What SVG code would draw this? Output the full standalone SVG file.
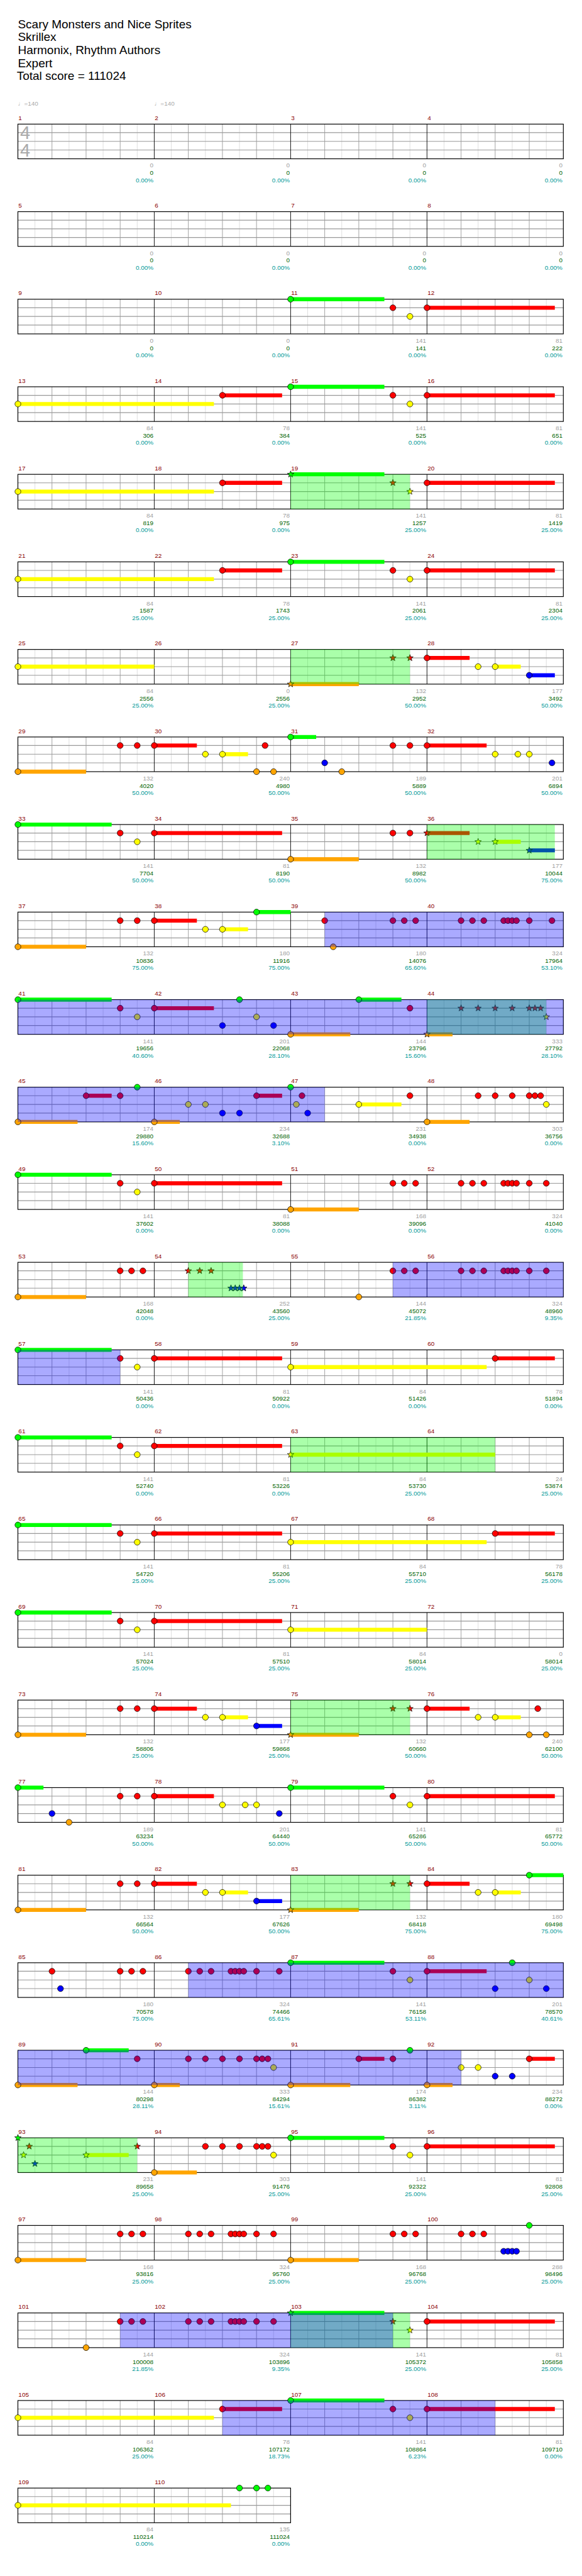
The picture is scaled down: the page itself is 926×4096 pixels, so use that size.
<svg xmlns="http://www.w3.org/2000/svg" xmlns:xlink="http://www.w3.org/1999/xlink" width="926" height="4096" viewBox="0 0 926 4096">
<style>
text{font-family:"Liberation Sans",Arial,sans-serif}
.t{font-size:21px;fill:#000}
.tp{font-size:11px;fill:#aaa}
.ts{font-size:32px;fill:#aaa}
.mn{font-size:11px;fill:#8b0000}
.sc,.cu,.pc{font-size:11px;text-anchor:end}
.sc{fill:#a0a0a0}.cu{fill:#006400}.pc{fill:#009999}
.n{stroke:#000;stroke-width:0.8}
.g{fill:#00ff00}.r{fill:#ff0000}.y{fill:#ffff00}.b{fill:#0000ff}.o{fill:#ffa500}
.su{fill:none;stroke-width:7}
.sg{stroke:#00ff00}.sr{stroke:#ff0000}.sy{stroke:#ffff00}.sb{stroke:#0000ff}.so{stroke:#ffa500}
.ovg{fill:#00ff00;fill-opacity:.333}
.ovb{fill:#0000ff;fill-opacity:.333}
</style>
<defs>
<g id="grid4">
<rect width="960" height="61" fill="#fff"/>
<path d="M30 0V61M90 0V61M150 0V61M210 0V61M270 0V61M330 0V61M390 0V61M450 0V61M510 0V61M570 0V61M630 0V61M690 0V61M750 0V61M810 0V61M870 0V61M930 0V61" stroke="#dcdcdc"/>
<path d="M60 0V61M120 0V61M180 0V61M300 0V61M360 0V61M420 0V61M540 0V61M600 0V61M660 0V61M780 0V61M840 0V61M900 0V61" stroke="#999"/>
<path d="M0 15H960M0 30.3H960M0 45.5H960" stroke="#999" stroke-width="1.3"/>
<path d="M240 0V61M480 0V61M720 0V61" stroke="#000"/>
<rect width="960" height="61" fill="none" stroke="#000" stroke-width="1.3"/>
</g>
<g id="grid2">
<rect width="480" height="61" fill="#fff"/>
<path d="M30 0V61M90 0V61M150 0V61M210 0V61M270 0V61M330 0V61M390 0V61M450 0V61" stroke="#dcdcdc"/>
<path d="M60 0V61M120 0V61M180 0V61M300 0V61M360 0V61M420 0V61" stroke="#999"/>
<path d="M0 15H480M0 30.3H480M0 45.5H480" stroke="#999" stroke-width="1.3"/>
<path d="M240 0V61" stroke="#000"/>
<rect width="480" height="61" fill="none" stroke="#000" stroke-width="1.3"/>
</g>
<path id="st" d="M0-6L1.47-2.02L5.71-1.85L2.38.77L3.53 4.85L0 2.5L-3.53 4.85L-2.38.77L-5.71-1.85L-1.47-2.02Z"/>
</defs>
<rect width="926" height="4096" fill="#fff"/>
<g transform="scale(0.904)">
<g id="header">
<text class="t" x="31.5" y="49.3">Scary Monsters and Nice Sprites</text>
<text class="t" x="31.5" y="72">Skrillex</text>
<text class="t" x="31.5" y="95">Harmonix, Rhythm Authors</text>
<text class="t" x="31.5" y="118">Expert</text>
<text class="t" x="29.5" y="141">Total score = 111024</text>
</g>

<g id="row1" transform="translate(31.5,218.3)">
<text class="tp" x="0" y="-33">♩=140</text><text class="tp" x="240" y="-33">♩=140</text>
<g class="mn"><text x="1" y="-7">1</text><text x="241" y="-7">2</text><text x="481" y="-7">3</text><text x="721" y="-7">4</text></g>
<use xlink:href="#grid4"/>
<text class="ts" x="4" y="26.7">4</text><text class="ts" x="4" y="56.7">4</text>
<g class="sc"><text x="238.5" y="76.5">0</text><text x="478.5" y="76.5">0</text><text x="718.5" y="76.5">0</text><text x="958.5" y="76.5">0</text></g>
<g class="cu"><text x="238.5" y="89.5">0</text><text x="478.5" y="89.5">0</text><text x="718.5" y="89.5">0</text><text x="958.5" y="89.5">0</text></g>
<g class="pc"><text x="238.5" y="102">0.00%</text><text x="478.5" y="102">0.00%</text><text x="718.5" y="102">0.00%</text><text x="958.5" y="102">0.00%</text></g>
</g>

<g id="row2" transform="translate(31.5,372.3)">
<g class="mn"><text x="1" y="-7">5</text><text x="241" y="-7">6</text><text x="481" y="-7">7</text><text x="721" y="-7">8</text></g>
<use xlink:href="#grid4"/>
<g class="sc"><text x="238.5" y="76.5">0</text><text x="478.5" y="76.5">0</text><text x="718.5" y="76.5">0</text><text x="958.5" y="76.5">0</text></g>
<g class="cu"><text x="238.5" y="89.5">0</text><text x="478.5" y="89.5">0</text><text x="718.5" y="89.5">0</text><text x="958.5" y="89.5">0</text></g>
<g class="pc"><text x="238.5" y="102">0.00%</text><text x="478.5" y="102">0.00%</text><text x="718.5" y="102">0.00%</text><text x="958.5" y="102">0.00%</text></g>
</g>

<g id="row3" transform="translate(31.5,526.3)">
<g class="mn"><text x="1" y="-7">9</text><text x="241" y="-7">10</text><text x="481" y="-7">11</text><text x="721" y="-7">12</text></g>
<use xlink:href="#grid4"/>
<path class="su sg" d="M480 0H645"/><path class="su sr" d="M720 15H945"/>
<g class="n"><circle class="g" cx="480" cy="0" r="5.2"/><circle class="r" cx="660" cy="15" r="5.2"/><circle class="y" cx="690" cy="30.3" r="5.2"/><circle class="r" cx="720" cy="15" r="5.2"/></g>
<g class="sc"><text x="238.5" y="76.5">0</text><text x="478.5" y="76.5">0</text><text x="718.5" y="76.5">141</text><text x="958.5" y="76.5">81</text></g>
<g class="cu"><text x="238.5" y="89.5">0</text><text x="478.5" y="89.5">0</text><text x="718.5" y="89.5">141</text><text x="958.5" y="89.5">222</text></g>
<g class="pc"><text x="238.5" y="102">0.00%</text><text x="478.5" y="102">0.00%</text><text x="718.5" y="102">0.00%</text><text x="958.5" y="102">0.00%</text></g>
</g>

<g id="row4" transform="translate(31.5,680.3)">
<g class="mn"><text x="1" y="-7">13</text><text x="241" y="-7">14</text><text x="481" y="-7">15</text><text x="721" y="-7">16</text></g>
<use xlink:href="#grid4"/>
<path class="su sy" d="M0 30.3H345"/><path class="su sr" d="M360 15H465M720 15H945"/><path class="su sg" d="M480 0H645"/>
<g class="n"><circle class="y" cx="0" cy="30.3" r="5.2"/><circle class="r" cx="360" cy="15" r="5.2"/><circle class="g" cx="480" cy="0" r="5.2"/><circle class="r" cx="660" cy="15" r="5.2"/><circle class="y" cx="690" cy="30.3" r="5.2"/><circle class="r" cx="720" cy="15" r="5.2"/></g>
<g class="sc"><text x="238.5" y="76.5">84</text><text x="478.5" y="76.5">78</text><text x="718.5" y="76.5">141</text><text x="958.5" y="76.5">81</text></g>
<g class="cu"><text x="238.5" y="89.5">306</text><text x="478.5" y="89.5">384</text><text x="718.5" y="89.5">525</text><text x="958.5" y="89.5">651</text></g>
<g class="pc"><text x="238.5" y="102">0.00%</text><text x="478.5" y="102">0.00%</text><text x="718.5" y="102">0.00%</text><text x="958.5" y="102">0.00%</text></g>
</g>

<g id="row5" transform="translate(31.5,834.3)">
<g class="mn"><text x="1" y="-7">17</text><text x="241" y="-7">18</text><text x="481" y="-7">19</text><text x="721" y="-7">20</text></g>
<use xlink:href="#grid4"/>
<path class="su sy" d="M0 30.3H345"/><path class="su sr" d="M360 15H465M720 15H945"/><path class="su sg" d="M480 0H645"/>
<g class="n"><circle class="y" cx="0" cy="30.3" r="5.2"/><circle class="r" cx="360" cy="15" r="5.2"/><use xlink:href="#st" class="g" x="480" y="0"/><use xlink:href="#st" class="r" x="660" y="15"/><use xlink:href="#st" class="y" x="690" y="30.3"/><circle class="r" cx="720" cy="15" r="5.2"/></g>
<rect class="ovg" x="480" width="210" height="61"/>
<g class="sc"><text x="238.5" y="76.5">84</text><text x="478.5" y="76.5">78</text><text x="718.5" y="76.5">141</text><text x="958.5" y="76.5">81</text></g>
<g class="cu"><text x="238.5" y="89.5">819</text><text x="478.5" y="89.5">975</text><text x="718.5" y="89.5">1257</text><text x="958.5" y="89.5">1419</text></g>
<g class="pc"><text x="238.5" y="102">0.00%</text><text x="478.5" y="102">0.00%</text><text x="718.5" y="102">25.00%</text><text x="958.5" y="102">25.00%</text></g>
</g>

<g id="row6" transform="translate(31.5,988.3)">
<g class="mn"><text x="1" y="-7">21</text><text x="241" y="-7">22</text><text x="481" y="-7">23</text><text x="721" y="-7">24</text></g>
<use xlink:href="#grid4"/>
<path class="su sy" d="M0 30.3H345"/><path class="su sr" d="M360 15H465M720 15H945"/><path class="su sg" d="M480 0H645"/>
<g class="n"><circle class="y" cx="0" cy="30.3" r="5.2"/><circle class="r" cx="360" cy="15" r="5.2"/><circle class="g" cx="480" cy="0" r="5.2"/><circle class="r" cx="660" cy="15" r="5.2"/><circle class="y" cx="690" cy="30.3" r="5.2"/><circle class="r" cx="720" cy="15" r="5.2"/></g>
<g class="sc"><text x="238.5" y="76.5">84</text><text x="478.5" y="76.5">78</text><text x="718.5" y="76.5">141</text><text x="958.5" y="76.5">81</text></g>
<g class="cu"><text x="238.5" y="89.5">1587</text><text x="478.5" y="89.5">1743</text><text x="718.5" y="89.5">2061</text><text x="958.5" y="89.5">2304</text></g>
<g class="pc"><text x="238.5" y="102">25.00%</text><text x="478.5" y="102">25.00%</text><text x="718.5" y="102">25.00%</text><text x="958.5" y="102">25.00%</text></g>
</g>

<g id="row7" transform="translate(31.5,1142.3)">
<g class="mn"><text x="1" y="-7">25</text><text x="241" y="-7">26</text><text x="481" y="-7">27</text><text x="721" y="-7">28</text></g>
<use xlink:href="#grid4"/>
<path class="su sy" d="M0 30.3H240M840 30.3H885"/><path class="su so" d="M480 61H600"/><path class="su sr" d="M720 15H795"/><path class="su sb" d="M900 45.5H945"/>
<g class="n"><circle class="y" cx="0" cy="30.3" r="5.2"/><use xlink:href="#st" class="o" x="480" y="61"/><use xlink:href="#st" class="r" x="660" y="15"/><use xlink:href="#st" class="r" x="690" y="15"/><circle class="r" cx="720" cy="15" r="5.2"/><circle class="y" cx="810" cy="30.3" r="5.2"/><circle class="y" cx="840" cy="30.3" r="5.2"/><circle class="b" cx="900" cy="45.5" r="5.2"/></g>
<rect class="ovg" x="480" width="210" height="61"/>
<g class="sc"><text x="238.5" y="76.5">84</text><text x="478.5" y="76.5">0</text><text x="718.5" y="76.5">132</text><text x="958.5" y="76.5">177</text></g>
<g class="cu"><text x="238.5" y="89.5">2556</text><text x="478.5" y="89.5">2556</text><text x="718.5" y="89.5">2952</text><text x="958.5" y="89.5">3492</text></g>
<g class="pc"><text x="238.5" y="102">25.00%</text><text x="478.5" y="102">25.00%</text><text x="718.5" y="102">50.00%</text><text x="958.5" y="102">50.00%</text></g>
</g>

<g id="row8" transform="translate(31.5,1296.3)">
<g class="mn"><text x="1" y="-7">29</text><text x="241" y="-7">30</text><text x="481" y="-7">31</text><text x="721" y="-7">32</text></g>
<use xlink:href="#grid4"/>
<path class="su so" d="M0 61H120"/><path class="su sr" d="M240 15H315M720 15H825"/><path class="su sy" d="M360 30.3H405"/><path class="su sg" d="M480 0H525"/>
<g class="n"><circle class="o" cx="0" cy="61" r="5.2"/><circle class="r" cx="180" cy="15" r="5.2"/><circle class="r" cx="210" cy="15" r="5.2"/><circle class="r" cx="240" cy="15" r="5.2"/><circle class="y" cx="330" cy="30.3" r="5.2"/><circle class="y" cx="360" cy="30.3" r="5.2"/><circle class="o" cx="420" cy="61" r="5.2"/><circle class="r" cx="435" cy="15" r="5.2"/><circle class="o" cx="450" cy="61" r="5.2"/><circle class="g" cx="480" cy="0" r="5.2"/><circle class="b" cx="540" cy="45.5" r="5.2"/><circle class="o" cx="570" cy="61" r="5.2"/><circle class="r" cx="660" cy="15" r="5.2"/><circle class="r" cx="690" cy="15" r="5.2"/><circle class="r" cx="720" cy="15" r="5.2"/><circle class="y" cx="840" cy="30.3" r="5.2"/><circle class="y" cx="880" cy="30.3" r="5.2"/><circle class="y" cx="900" cy="30.3" r="5.2"/><circle class="b" cx="940" cy="45.5" r="5.2"/></g>
<g class="sc"><text x="238.5" y="76.5">132</text><text x="478.5" y="76.5">240</text><text x="718.5" y="76.5">189</text><text x="958.5" y="76.5">201</text></g>
<g class="cu"><text x="238.5" y="89.5">4020</text><text x="478.5" y="89.5">4980</text><text x="718.5" y="89.5">5889</text><text x="958.5" y="89.5">6894</text></g>
<g class="pc"><text x="238.5" y="102">50.00%</text><text x="478.5" y="102">50.00%</text><text x="718.5" y="102">50.00%</text><text x="958.5" y="102">50.00%</text></g>
</g>

<g id="row9" transform="translate(31.5,1450.3)">
<g class="mn"><text x="1" y="-7">33</text><text x="241" y="-7">34</text><text x="481" y="-7">35</text><text x="721" y="-7">36</text></g>
<use xlink:href="#grid4"/>
<path class="su sg" d="M0 0H165"/><path class="su sr" d="M240 15H465M720 15H795"/><path class="su so" d="M480 61H600"/><path class="su sy" d="M840 30.3H885"/><path class="su sb" d="M900 45.5H945"/>
<g class="n"><circle class="g" cx="0" cy="0" r="5.2"/><circle class="r" cx="180" cy="15" r="5.2"/><circle class="y" cx="210" cy="30.3" r="5.2"/><circle class="r" cx="240" cy="15" r="5.2"/><circle class="o" cx="480" cy="61" r="5.2"/><circle class="r" cx="660" cy="15" r="5.2"/><circle class="r" cx="690" cy="15" r="5.2"/><use xlink:href="#st" class="r" x="720" y="15"/><use xlink:href="#st" class="y" x="810" y="30.3"/><use xlink:href="#st" class="y" x="840" y="30.3"/><use xlink:href="#st" class="b" x="900" y="45.5"/></g>
<rect class="ovg" x="720" width="225" height="61"/>
<g class="sc"><text x="238.5" y="76.5">141</text><text x="478.5" y="76.5">81</text><text x="718.5" y="76.5">132</text><text x="958.5" y="76.5">177</text></g>
<g class="cu"><text x="238.5" y="89.5">7704</text><text x="478.5" y="89.5">8190</text><text x="718.5" y="89.5">8982</text><text x="958.5" y="89.5">10044</text></g>
<g class="pc"><text x="238.5" y="102">50.00%</text><text x="478.5" y="102">50.00%</text><text x="718.5" y="102">50.00%</text><text x="958.5" y="102">75.00%</text></g>
</g>

<g id="row10" transform="translate(31.5,1604.3)">
<g class="mn"><text x="1" y="-7">37</text><text x="241" y="-7">38</text><text x="481" y="-7">39</text><text x="721" y="-7">40</text></g>
<use xlink:href="#grid4"/>
<path class="su so" d="M0 61H120"/><path class="su sr" d="M240 15H315"/><path class="su sy" d="M360 30.3H405"/><path class="su sg" d="M420 0H480"/>
<g class="n"><circle class="o" cx="0" cy="61" r="5.2"/><circle class="r" cx="180" cy="15" r="5.2"/><circle class="r" cx="210" cy="15" r="5.2"/><circle class="r" cx="240" cy="15" r="5.2"/><circle class="y" cx="330" cy="30.3" r="5.2"/><circle class="y" cx="360" cy="30.3" r="5.2"/><circle class="g" cx="420" cy="0" r="5.2"/><circle class="r" cx="540" cy="15" r="5.2"/><circle class="o" cx="555" cy="61" r="5.2"/><circle class="r" cx="660" cy="15" r="5.2"/><circle class="r" cx="680" cy="15" r="5.2"/><circle class="r" cx="700" cy="15" r="5.2"/><circle class="r" cx="780" cy="15" r="5.2"/><circle class="r" cx="800" cy="15" r="5.2"/><circle class="r" cx="820" cy="15" r="5.2"/><circle class="r" cx="855" cy="15" r="5.2"/><circle class="r" cx="862.5" cy="15" r="5.2"/><circle class="r" cx="870" cy="15" r="5.2"/><circle class="r" cx="877.5" cy="15" r="5.2"/><circle class="r" cx="900" cy="15" r="5.2"/><circle class="r" cx="940" cy="15" r="5.2"/></g>
<rect class="ovb" x="540" width="420" height="61"/>
<g class="sc"><text x="238.5" y="76.5">132</text><text x="478.5" y="76.5">180</text><text x="718.5" y="76.5">180</text><text x="958.5" y="76.5">324</text></g>
<g class="cu"><text x="238.5" y="89.5">10836</text><text x="478.5" y="89.5">11916</text><text x="718.5" y="89.5">14076</text><text x="958.5" y="89.5">17964</text></g>
<g class="pc"><text x="238.5" y="102">75.00%</text><text x="478.5" y="102">75.00%</text><text x="718.5" y="102">65.60%</text><text x="958.5" y="102">53.10%</text></g>
</g>

<g id="row11" transform="translate(31.5,1758.3)">
<g class="mn"><text x="1" y="-7">41</text><text x="241" y="-7">42</text><text x="481" y="-7">43</text><text x="721" y="-7">44</text></g>
<use xlink:href="#grid4"/>
<path class="su sg" d="M0 0H165M600 0H675"/><path class="su sr" d="M240 15H345"/><path class="su so" d="M480 61H585M720 61H765"/>
<g class="n"><circle class="g" cx="0" cy="0" r="5.2"/><circle class="r" cx="180" cy="15" r="5.2"/><circle class="y" cx="210" cy="30.3" r="5.2"/><circle class="r" cx="240" cy="15" r="5.2"/><circle class="b" cx="360" cy="45.5" r="5.2"/><circle class="g" cx="390" cy="0" r="5.2"/><circle class="y" cx="420" cy="30.3" r="5.2"/><circle class="b" cx="450" cy="45.5" r="5.2"/><circle class="o" cx="480" cy="61" r="5.2"/><circle class="g" cx="600" cy="0" r="5.2"/><circle class="r" cx="690" cy="15" r="5.2"/><use xlink:href="#st" class="o" x="720" y="61"/><use xlink:href="#st" class="r" x="780" y="15"/><use xlink:href="#st" class="r" x="810" y="15"/><use xlink:href="#st" class="r" x="840" y="15"/><use xlink:href="#st" class="r" x="870" y="15"/><use xlink:href="#st" class="r" x="900" y="15"/><use xlink:href="#st" class="r" x="910" y="15"/><use xlink:href="#st" class="r" x="920" y="15"/><use xlink:href="#st" class="y" x="930" y="30.3"/></g>
<rect class="ovg" x="720" width="210" height="61"/>
<rect class="ovb" x="0" width="960" height="61"/>
<g class="sc"><text x="238.5" y="76.5">141</text><text x="478.5" y="76.5">201</text><text x="718.5" y="76.5">144</text><text x="958.5" y="76.5">333</text></g>
<g class="cu"><text x="238.5" y="89.5">19656</text><text x="478.5" y="89.5">22068</text><text x="718.5" y="89.5">23796</text><text x="958.5" y="89.5">27792</text></g>
<g class="pc"><text x="238.5" y="102">40.60%</text><text x="478.5" y="102">28.10%</text><text x="718.5" y="102">15.60%</text><text x="958.5" y="102">28.10%</text></g>
</g>

<g id="row12" transform="translate(31.5,1912.3)">
<g class="mn"><text x="1" y="-7">45</text><text x="241" y="-7">46</text><text x="481" y="-7">47</text><text x="721" y="-7">48</text></g>
<use xlink:href="#grid4"/>
<path class="su so" d="M0 61H105M240 61H285M720 61H795"/><path class="su sr" d="M120 15H165M420 15H465"/><path class="su sy" d="M600 30.3H675"/>
<g class="n"><circle class="o" cx="0" cy="61" r="5.2"/><circle class="r" cx="120" cy="15" r="5.2"/><circle class="r" cx="180" cy="15" r="5.2"/><circle class="g" cx="210" cy="0" r="5.2"/><circle class="o" cx="240" cy="61" r="5.2"/><circle class="y" cx="300" cy="30.3" r="5.2"/><circle class="y" cx="330" cy="30.3" r="5.2"/><circle class="b" cx="360" cy="45.5" r="5.2"/><circle class="b" cx="390" cy="45.5" r="5.2"/><circle class="r" cx="420" cy="15" r="5.2"/><circle class="g" cx="480" cy="0" r="5.2"/><circle class="y" cx="490" cy="30.3" r="5.2"/><circle class="r" cx="500" cy="15" r="5.2"/><circle class="b" cx="510" cy="45.5" r="5.2"/><circle class="y" cx="600" cy="30.3" r="5.2"/><circle class="r" cx="690" cy="15" r="5.2"/><circle class="o" cx="720" cy="61" r="5.2"/><circle class="r" cx="810" cy="15" r="5.2"/><circle class="r" cx="840" cy="15" r="5.2"/><circle class="r" cx="870" cy="15" r="5.2"/><circle class="r" cx="900" cy="15" r="5.2"/><circle class="r" cx="910" cy="15" r="5.2"/><circle class="r" cx="920" cy="15" r="5.2"/><circle class="y" cx="930" cy="30.3" r="5.2"/></g>
<rect class="ovb" x="0" width="540" height="61"/>
<g class="sc"><text x="238.5" y="76.5">174</text><text x="478.5" y="76.5">234</text><text x="718.5" y="76.5">231</text><text x="958.5" y="76.5">303</text></g>
<g class="cu"><text x="238.5" y="89.5">29880</text><text x="478.5" y="89.5">32688</text><text x="718.5" y="89.5">34938</text><text x="958.5" y="89.5">36756</text></g>
<g class="pc"><text x="238.5" y="102">15.60%</text><text x="478.5" y="102">3.10%</text><text x="718.5" y="102">0.00%</text><text x="958.5" y="102">0.00%</text></g>
</g>

<g id="row13" transform="translate(31.5,2066.3)">
<g class="mn"><text x="1" y="-7">49</text><text x="241" y="-7">50</text><text x="481" y="-7">51</text><text x="721" y="-7">52</text></g>
<use xlink:href="#grid4"/>
<path class="su sg" d="M0 0H165"/><path class="su sr" d="M240 15H465"/><path class="su so" d="M480 61H600"/>
<g class="n"><circle class="g" cx="0" cy="0" r="5.2"/><circle class="r" cx="180" cy="15" r="5.2"/><circle class="y" cx="210" cy="30.3" r="5.2"/><circle class="r" cx="240" cy="15" r="5.2"/><circle class="o" cx="480" cy="61" r="5.2"/><circle class="r" cx="660" cy="15" r="5.2"/><circle class="r" cx="680" cy="15" r="5.2"/><circle class="r" cx="700" cy="15" r="5.2"/><circle class="r" cx="780" cy="15" r="5.2"/><circle class="r" cx="800" cy="15" r="5.2"/><circle class="r" cx="820" cy="15" r="5.2"/><circle class="r" cx="855" cy="15" r="5.2"/><circle class="r" cx="862.5" cy="15" r="5.2"/><circle class="r" cx="870" cy="15" r="5.2"/><circle class="r" cx="877.5" cy="15" r="5.2"/><circle class="r" cx="900" cy="15" r="5.2"/><circle class="r" cx="930" cy="15" r="5.2"/></g>
<g class="sc"><text x="238.5" y="76.5">141</text><text x="478.5" y="76.5">81</text><text x="718.5" y="76.5">168</text><text x="958.5" y="76.5">324</text></g>
<g class="cu"><text x="238.5" y="89.5">37602</text><text x="478.5" y="89.5">38088</text><text x="718.5" y="89.5">39096</text><text x="958.5" y="89.5">41040</text></g>
<g class="pc"><text x="238.5" y="102">0.00%</text><text x="478.5" y="102">0.00%</text><text x="718.5" y="102">0.00%</text><text x="958.5" y="102">0.00%</text></g>
</g>

<g id="row14" transform="translate(31.5,2220.3)">
<g class="mn"><text x="1" y="-7">53</text><text x="241" y="-7">54</text><text x="481" y="-7">55</text><text x="721" y="-7">56</text></g>
<use xlink:href="#grid4"/>
<path class="su so" d="M0 61H120"/>
<g class="n"><circle class="o" cx="0" cy="61" r="5.2"/><circle class="r" cx="180" cy="15" r="5.2"/><circle class="r" cx="200" cy="15" r="5.2"/><circle class="r" cx="220" cy="15" r="5.2"/><use xlink:href="#st" class="r" x="300" y="15"/><use xlink:href="#st" class="r" x="320" y="15"/><use xlink:href="#st" class="r" x="340" y="15"/><use xlink:href="#st" class="b" x="375" y="45.5"/><use xlink:href="#st" class="b" x="382.5" y="45.5"/><use xlink:href="#st" class="b" x="390" y="45.5"/><use xlink:href="#st" class="b" x="397.5" y="45.5"/><circle class="o" cx="600" cy="61" r="5.2"/><circle class="r" cx="660" cy="15" r="5.2"/><circle class="r" cx="680" cy="15" r="5.2"/><circle class="r" cx="700" cy="15" r="5.2"/><circle class="r" cx="780" cy="15" r="5.2"/><circle class="r" cx="800" cy="15" r="5.2"/><circle class="r" cx="820" cy="15" r="5.2"/><circle class="r" cx="855" cy="15" r="5.2"/><circle class="r" cx="862.5" cy="15" r="5.2"/><circle class="r" cx="870" cy="15" r="5.2"/><circle class="r" cx="877.5" cy="15" r="5.2"/><circle class="r" cx="900" cy="15" r="5.2"/><circle class="r" cx="930" cy="15" r="5.2"/></g>
<rect class="ovg" x="300" width="96" height="61"/>
<rect class="ovb" x="660" width="300" height="61"/>
<g class="sc"><text x="238.5" y="76.5">168</text><text x="478.5" y="76.5">252</text><text x="718.5" y="76.5">144</text><text x="958.5" y="76.5">324</text></g>
<g class="cu"><text x="238.5" y="89.5">42048</text><text x="478.5" y="89.5">43560</text><text x="718.5" y="89.5">45072</text><text x="958.5" y="89.5">48960</text></g>
<g class="pc"><text x="238.5" y="102">0.00%</text><text x="478.5" y="102">25.00%</text><text x="718.5" y="102">21.85%</text><text x="958.5" y="102">9.35%</text></g>
</g>

<g id="row15" transform="translate(31.5,2374.3)">
<g class="mn"><text x="1" y="-7">57</text><text x="241" y="-7">58</text><text x="481" y="-7">59</text><text x="721" y="-7">60</text></g>
<use xlink:href="#grid4"/>
<path class="su sg" d="M0 0H165"/><path class="su sr" d="M240 15H465M840 15H945"/><path class="su sy" d="M480 30.3H825"/>
<g class="n"><circle class="g" cx="0" cy="0" r="5.2"/><circle class="r" cx="180" cy="15" r="5.2"/><circle class="y" cx="210" cy="30.3" r="5.2"/><circle class="r" cx="240" cy="15" r="5.2"/><circle class="y" cx="480" cy="30.3" r="5.2"/><circle class="r" cx="840" cy="15" r="5.2"/></g>
<rect class="ovb" x="0" width="180" height="61"/>
<g class="sc"><text x="238.5" y="76.5">141</text><text x="478.5" y="76.5">81</text><text x="718.5" y="76.5">84</text><text x="958.5" y="76.5">78</text></g>
<g class="cu"><text x="238.5" y="89.5">50436</text><text x="478.5" y="89.5">50922</text><text x="718.5" y="89.5">51426</text><text x="958.5" y="89.5">51894</text></g>
<g class="pc"><text x="238.5" y="102">0.00%</text><text x="478.5" y="102">0.00%</text><text x="718.5" y="102">0.00%</text><text x="958.5" y="102">0.00%</text></g>
</g>

<g id="row16" transform="translate(31.5,2528.3)">
<g class="mn"><text x="1" y="-7">61</text><text x="241" y="-7">62</text><text x="481" y="-7">63</text><text x="721" y="-7">64</text></g>
<use xlink:href="#grid4"/>
<path class="su sg" d="M0 0H165"/><path class="su sr" d="M240 15H465"/><path class="su sy" d="M480 30.3H840"/>
<g class="n"><circle class="g" cx="0" cy="0" r="5.2"/><circle class="r" cx="180" cy="15" r="5.2"/><circle class="y" cx="210" cy="30.3" r="5.2"/><circle class="r" cx="240" cy="15" r="5.2"/><use xlink:href="#st" class="y" x="480" y="30.3"/></g>
<rect class="ovg" x="480" width="360" height="61"/>
<g class="sc"><text x="238.5" y="76.5">141</text><text x="478.5" y="76.5">81</text><text x="718.5" y="76.5">84</text><text x="958.5" y="76.5">24</text></g>
<g class="cu"><text x="238.5" y="89.5">52740</text><text x="478.5" y="89.5">53226</text><text x="718.5" y="89.5">53730</text><text x="958.5" y="89.5">53874</text></g>
<g class="pc"><text x="238.5" y="102">0.00%</text><text x="478.5" y="102">0.00%</text><text x="718.5" y="102">25.00%</text><text x="958.5" y="102">25.00%</text></g>
</g>

<g id="row17" transform="translate(31.5,2682.3)">
<g class="mn"><text x="1" y="-7">65</text><text x="241" y="-7">66</text><text x="481" y="-7">67</text><text x="721" y="-7">68</text></g>
<use xlink:href="#grid4"/>
<path class="su sg" d="M0 0H165"/><path class="su sr" d="M240 15H465M840 15H945"/><path class="su sy" d="M480 30.3H825"/>
<g class="n"><circle class="g" cx="0" cy="0" r="5.2"/><circle class="r" cx="180" cy="15" r="5.2"/><circle class="y" cx="210" cy="30.3" r="5.2"/><circle class="r" cx="240" cy="15" r="5.2"/><circle class="y" cx="480" cy="30.3" r="5.2"/><circle class="r" cx="840" cy="15" r="5.2"/></g>
<g class="sc"><text x="238.5" y="76.5">141</text><text x="478.5" y="76.5">81</text><text x="718.5" y="76.5">84</text><text x="958.5" y="76.5">78</text></g>
<g class="cu"><text x="238.5" y="89.5">54720</text><text x="478.5" y="89.5">55206</text><text x="718.5" y="89.5">55710</text><text x="958.5" y="89.5">56178</text></g>
<g class="pc"><text x="238.5" y="102">25.00%</text><text x="478.5" y="102">25.00%</text><text x="718.5" y="102">25.00%</text><text x="958.5" y="102">25.00%</text></g>
</g>

<g id="row18" transform="translate(31.5,2836.3)">
<g class="mn"><text x="1" y="-7">69</text><text x="241" y="-7">70</text><text x="481" y="-7">71</text><text x="721" y="-7">72</text></g>
<use xlink:href="#grid4"/>
<path class="su sg" d="M0 0H165"/><path class="su sr" d="M240 15H465"/><path class="su sy" d="M480 30.3H720"/>
<g class="n"><circle class="g" cx="0" cy="0" r="5.2"/><circle class="r" cx="180" cy="15" r="5.2"/><circle class="y" cx="210" cy="30.3" r="5.2"/><circle class="r" cx="240" cy="15" r="5.2"/><circle class="y" cx="480" cy="30.3" r="5.2"/></g>
<g class="sc"><text x="238.5" y="76.5">141</text><text x="478.5" y="76.5">81</text><text x="718.5" y="76.5">84</text><text x="958.5" y="76.5">0</text></g>
<g class="cu"><text x="238.5" y="89.5">57024</text><text x="478.5" y="89.5">57510</text><text x="718.5" y="89.5">58014</text><text x="958.5" y="89.5">58014</text></g>
<g class="pc"><text x="238.5" y="102">25.00%</text><text x="478.5" y="102">25.00%</text><text x="718.5" y="102">25.00%</text><text x="958.5" y="102">25.00%</text></g>
</g>

<g id="row19" transform="translate(31.5,2990.3)">
<g class="mn"><text x="1" y="-7">73</text><text x="241" y="-7">74</text><text x="481" y="-7">75</text><text x="721" y="-7">76</text></g>
<use xlink:href="#grid4"/>
<path class="su so" d="M0 61H120M480 61H600"/><path class="su sr" d="M240 15H315M720 15H795"/><path class="su sy" d="M360 30.3H405M840 30.3H885"/><path class="su sb" d="M420 45.5H465"/>
<g class="n"><circle class="o" cx="0" cy="61" r="5.2"/><circle class="r" cx="180" cy="15" r="5.2"/><circle class="r" cx="210" cy="15" r="5.2"/><circle class="r" cx="240" cy="15" r="5.2"/><circle class="y" cx="330" cy="30.3" r="5.2"/><circle class="y" cx="360" cy="30.3" r="5.2"/><circle class="b" cx="420" cy="45.5" r="5.2"/><use xlink:href="#st" class="o" x="480" y="61"/><use xlink:href="#st" class="r" x="660" y="15"/><use xlink:href="#st" class="r" x="690" y="15"/><circle class="r" cx="720" cy="15" r="5.2"/><circle class="y" cx="810" cy="30.3" r="5.2"/><circle class="y" cx="840" cy="30.3" r="5.2"/><circle class="o" cx="900" cy="61" r="5.2"/><circle class="r" cx="915" cy="15" r="5.2"/><circle class="o" cx="930" cy="61" r="5.2"/></g>
<rect class="ovg" x="480" width="210" height="61"/>
<g class="sc"><text x="238.5" y="76.5">132</text><text x="478.5" y="76.5">177</text><text x="718.5" y="76.5">132</text><text x="958.5" y="76.5">240</text></g>
<g class="cu"><text x="238.5" y="89.5">58806</text><text x="478.5" y="89.5">59868</text><text x="718.5" y="89.5">60660</text><text x="958.5" y="89.5">62100</text></g>
<g class="pc"><text x="238.5" y="102">25.00%</text><text x="478.5" y="102">25.00%</text><text x="718.5" y="102">50.00%</text><text x="958.5" y="102">50.00%</text></g>
</g>

<g id="row20" transform="translate(31.5,3144.3)">
<g class="mn"><text x="1" y="-7">77</text><text x="241" y="-7">78</text><text x="481" y="-7">79</text><text x="721" y="-7">80</text></g>
<use xlink:href="#grid4"/>
<path class="su sg" d="M0 0H45M480 0H645"/><path class="su sr" d="M240 15H345M720 15H945"/>
<g class="n"><circle class="g" cx="0" cy="0" r="5.2"/><circle class="b" cx="60" cy="45.5" r="5.2"/><circle class="o" cx="90" cy="61" r="5.2"/><circle class="r" cx="180" cy="15" r="5.2"/><circle class="r" cx="210" cy="15" r="5.2"/><circle class="r" cx="240" cy="15" r="5.2"/><circle class="y" cx="360" cy="30.3" r="5.2"/><circle class="y" cx="400" cy="30.3" r="5.2"/><circle class="y" cx="420" cy="30.3" r="5.2"/><circle class="b" cx="460" cy="45.5" r="5.2"/><circle class="g" cx="480" cy="0" r="5.2"/><circle class="r" cx="660" cy="15" r="5.2"/><circle class="y" cx="690" cy="30.3" r="5.2"/><circle class="r" cx="720" cy="15" r="5.2"/></g>
<g class="sc"><text x="238.5" y="76.5">189</text><text x="478.5" y="76.5">201</text><text x="718.5" y="76.5">141</text><text x="958.5" y="76.5">81</text></g>
<g class="cu"><text x="238.5" y="89.5">63234</text><text x="478.5" y="89.5">64440</text><text x="718.5" y="89.5">65286</text><text x="958.5" y="89.5">65772</text></g>
<g class="pc"><text x="238.5" y="102">50.00%</text><text x="478.5" y="102">50.00%</text><text x="718.5" y="102">50.00%</text><text x="958.5" y="102">50.00%</text></g>
</g>

<g id="row21" transform="translate(31.5,3298.3)">
<g class="mn"><text x="1" y="-7">81</text><text x="241" y="-7">82</text><text x="481" y="-7">83</text><text x="721" y="-7">84</text></g>
<use xlink:href="#grid4"/>
<path class="su so" d="M0 61H120M480 61H600"/><path class="su sr" d="M240 15H315M720 15H795"/><path class="su sy" d="M360 30.3H405M840 30.3H885"/><path class="su sb" d="M420 45.5H465"/><path class="su sg" d="M900 0H960"/>
<g class="n"><circle class="o" cx="0" cy="61" r="5.2"/><circle class="r" cx="180" cy="15" r="5.2"/><circle class="r" cx="210" cy="15" r="5.2"/><circle class="r" cx="240" cy="15" r="5.2"/><circle class="y" cx="330" cy="30.3" r="5.2"/><circle class="y" cx="360" cy="30.3" r="5.2"/><circle class="b" cx="420" cy="45.5" r="5.2"/><use xlink:href="#st" class="o" x="480" y="61"/><use xlink:href="#st" class="r" x="660" y="15"/><use xlink:href="#st" class="r" x="690" y="15"/><circle class="r" cx="720" cy="15" r="5.2"/><circle class="y" cx="810" cy="30.3" r="5.2"/><circle class="y" cx="840" cy="30.3" r="5.2"/><circle class="g" cx="900" cy="0" r="5.2"/></g>
<rect class="ovg" x="480" width="210" height="61"/>
<g class="sc"><text x="238.5" y="76.5">132</text><text x="478.5" y="76.5">177</text><text x="718.5" y="76.5">132</text><text x="958.5" y="76.5">180</text></g>
<g class="cu"><text x="238.5" y="89.5">66564</text><text x="478.5" y="89.5">67626</text><text x="718.5" y="89.5">68418</text><text x="958.5" y="89.5">69498</text></g>
<g class="pc"><text x="238.5" y="102">50.00%</text><text x="478.5" y="102">50.00%</text><text x="718.5" y="102">75.00%</text><text x="958.5" y="102">75.00%</text></g>
</g>

<g id="row22" transform="translate(31.5,3452.3)">
<g class="mn"><text x="1" y="-7">85</text><text x="241" y="-7">86</text><text x="481" y="-7">87</text><text x="721" y="-7">88</text></g>
<use xlink:href="#grid4"/>
<path class="su sg" d="M480 0H645"/><path class="su sr" d="M720 15H825"/>
<g class="n"><circle class="r" cx="60" cy="15" r="5.2"/><circle class="b" cx="75" cy="45.5" r="5.2"/><circle class="r" cx="180" cy="15" r="5.2"/><circle class="r" cx="200" cy="15" r="5.2"/><circle class="r" cx="220" cy="15" r="5.2"/><circle class="r" cx="300" cy="15" r="5.2"/><circle class="r" cx="320" cy="15" r="5.2"/><circle class="r" cx="340" cy="15" r="5.2"/><circle class="r" cx="375" cy="15" r="5.2"/><circle class="r" cx="382.5" cy="15" r="5.2"/><circle class="r" cx="390" cy="15" r="5.2"/><circle class="r" cx="397.5" cy="15" r="5.2"/><circle class="r" cx="420" cy="15" r="5.2"/><circle class="r" cx="460" cy="15" r="5.2"/><circle class="g" cx="480" cy="0" r="5.2"/><circle class="r" cx="660" cy="15" r="5.2"/><circle class="y" cx="690" cy="30.3" r="5.2"/><circle class="r" cx="720" cy="15" r="5.2"/><circle class="b" cx="840" cy="45.5" r="5.2"/><circle class="g" cx="870" cy="0" r="5.2"/><circle class="y" cx="900" cy="30.3" r="5.2"/><circle class="b" cx="930" cy="45.5" r="5.2"/></g>
<rect class="ovb" x="300" width="660" height="61"/>
<g class="sc"><text x="238.5" y="76.5">180</text><text x="478.5" y="76.5">324</text><text x="718.5" y="76.5">141</text><text x="958.5" y="76.5">201</text></g>
<g class="cu"><text x="238.5" y="89.5">70578</text><text x="478.5" y="89.5">74466</text><text x="718.5" y="89.5">76158</text><text x="958.5" y="89.5">78570</text></g>
<g class="pc"><text x="238.5" y="102">75.00%</text><text x="478.5" y="102">65.61%</text><text x="718.5" y="102">53.11%</text><text x="958.5" y="102">40.61%</text></g>
</g>

<g id="row23" transform="translate(31.5,3606.3)">
<g class="mn"><text x="1" y="-7">89</text><text x="241" y="-7">90</text><text x="481" y="-7">91</text><text x="721" y="-7">92</text></g>
<use xlink:href="#grid4"/>
<path class="su so" d="M0 61H105M240 61H285M480 61H585M720 61H765"/><path class="su sg" d="M120 0H195"/><path class="su sr" d="M600 15H645M900 15H945"/>
<g class="n"><circle class="o" cx="0" cy="61" r="5.2"/><circle class="g" cx="120" cy="0" r="5.2"/><circle class="r" cx="210" cy="15" r="5.2"/><circle class="o" cx="240" cy="61" r="5.2"/><circle class="r" cx="300" cy="15" r="5.2"/><circle class="r" cx="330" cy="15" r="5.2"/><circle class="r" cx="360" cy="15" r="5.2"/><circle class="r" cx="390" cy="15" r="5.2"/><circle class="r" cx="420" cy="15" r="5.2"/><circle class="r" cx="430" cy="15" r="5.2"/><circle class="r" cx="440" cy="15" r="5.2"/><circle class="y" cx="450" cy="30.3" r="5.2"/><circle class="o" cx="480" cy="61" r="5.2"/><circle class="r" cx="600" cy="15" r="5.2"/><circle class="r" cx="660" cy="15" r="5.2"/><circle class="g" cx="690" cy="0" r="5.2"/><circle class="o" cx="720" cy="61" r="5.2"/><circle class="y" cx="780" cy="30.3" r="5.2"/><circle class="y" cx="810" cy="30.3" r="5.2"/><circle class="b" cx="840" cy="45.5" r="5.2"/><circle class="b" cx="870" cy="45.5" r="5.2"/><circle class="r" cx="900" cy="15" r="5.2"/></g>
<rect class="ovb" x="0" width="780" height="61"/>
<g class="sc"><text x="238.5" y="76.5">144</text><text x="478.5" y="76.5">333</text><text x="718.5" y="76.5">174</text><text x="958.5" y="76.5">234</text></g>
<g class="cu"><text x="238.5" y="89.5">80298</text><text x="478.5" y="89.5">84294</text><text x="718.5" y="89.5">86382</text><text x="958.5" y="89.5">88272</text></g>
<g class="pc"><text x="238.5" y="102">28.11%</text><text x="478.5" y="102">15.61%</text><text x="718.5" y="102">3.11%</text><text x="958.5" y="102">0.00%</text></g>
</g>

<g id="row24" transform="translate(31.5,3760.3)">
<g class="mn"><text x="1" y="-7">93</text><text x="241" y="-7">94</text><text x="481" y="-7">95</text><text x="721" y="-7">96</text></g>
<use xlink:href="#grid4"/>
<path class="su sy" d="M120 30.3H195"/><path class="su so" d="M240 61H315"/><path class="su sg" d="M480 0H645"/><path class="su sr" d="M720 15H945"/>
<g class="n"><use xlink:href="#st" class="g" x="0" y="0"/><use xlink:href="#st" class="y" x="10" y="30.3"/><use xlink:href="#st" class="r" x="20" y="15"/><use xlink:href="#st" class="b" x="30" y="45.5"/><use xlink:href="#st" class="y" x="120" y="30.3"/><use xlink:href="#st" class="r" x="210" y="15"/><circle class="o" cx="240" cy="61" r="5.2"/><circle class="r" cx="330" cy="15" r="5.2"/><circle class="r" cx="360" cy="15" r="5.2"/><circle class="r" cx="390" cy="15" r="5.2"/><circle class="r" cx="420" cy="15" r="5.2"/><circle class="r" cx="430" cy="15" r="5.2"/><circle class="r" cx="440" cy="15" r="5.2"/><circle class="y" cx="450" cy="30.3" r="5.2"/><circle class="g" cx="480" cy="0" r="5.2"/><circle class="r" cx="660" cy="15" r="5.2"/><circle class="y" cx="690" cy="30.3" r="5.2"/><circle class="r" cx="720" cy="15" r="5.2"/></g>
<rect class="ovg" x="0" width="210" height="61"/>
<g class="sc"><text x="238.5" y="76.5">231</text><text x="478.5" y="76.5">303</text><text x="718.5" y="76.5">141</text><text x="958.5" y="76.5">81</text></g>
<g class="cu"><text x="238.5" y="89.5">89658</text><text x="478.5" y="89.5">91476</text><text x="718.5" y="89.5">92322</text><text x="958.5" y="89.5">92808</text></g>
<g class="pc"><text x="238.5" y="102">25.00%</text><text x="478.5" y="102">25.00%</text><text x="718.5" y="102">25.00%</text><text x="958.5" y="102">25.00%</text></g>
</g>

<g id="row25" transform="translate(31.5,3914.3)">
<g class="mn"><text x="1" y="-7">97</text><text x="241" y="-7">98</text><text x="481" y="-7">99</text><text x="721" y="-7">100</text></g>
<use xlink:href="#grid4"/>
<path class="su so" d="M0 61H120M480 61H600"/>
<g class="n"><circle class="o" cx="0" cy="61" r="5.2"/><circle class="r" cx="180" cy="15" r="5.2"/><circle class="r" cx="200" cy="15" r="5.2"/><circle class="r" cx="220" cy="15" r="5.2"/><circle class="r" cx="300" cy="15" r="5.2"/><circle class="r" cx="320" cy="15" r="5.2"/><circle class="r" cx="340" cy="15" r="5.2"/><circle class="r" cx="375" cy="15" r="5.2"/><circle class="r" cx="382.5" cy="15" r="5.2"/><circle class="r" cx="390" cy="15" r="5.2"/><circle class="r" cx="397.5" cy="15" r="5.2"/><circle class="r" cx="420" cy="15" r="5.2"/><circle class="r" cx="450" cy="15" r="5.2"/><circle class="o" cx="480" cy="61" r="5.2"/><circle class="r" cx="660" cy="15" r="5.2"/><circle class="r" cx="680" cy="15" r="5.2"/><circle class="r" cx="700" cy="15" r="5.2"/><circle class="r" cx="780" cy="15" r="5.2"/><circle class="r" cx="800" cy="15" r="5.2"/><circle class="r" cx="820" cy="15" r="5.2"/><circle class="b" cx="855" cy="45.5" r="5.2"/><circle class="b" cx="862.5" cy="45.5" r="5.2"/><circle class="b" cx="870" cy="45.5" r="5.2"/><circle class="b" cx="877.5" cy="45.5" r="5.2"/><circle class="g" cx="900" cy="0" r="5.2"/></g>
<g class="sc"><text x="238.5" y="76.5">168</text><text x="478.5" y="76.5">324</text><text x="718.5" y="76.5">168</text><text x="958.5" y="76.5">288</text></g>
<g class="cu"><text x="238.5" y="89.5">93816</text><text x="478.5" y="89.5">95760</text><text x="718.5" y="89.5">96768</text><text x="958.5" y="89.5">98496</text></g>
<g class="pc"><text x="238.5" y="102">25.00%</text><text x="478.5" y="102">25.00%</text><text x="718.5" y="102">25.00%</text><text x="958.5" y="102">25.00%</text></g>
</g>

<g id="row26" transform="translate(31.5,4068.3)">
<g class="mn"><text x="1" y="-7">101</text><text x="241" y="-7">102</text><text x="481" y="-7">103</text><text x="721" y="-7">104</text></g>
<use xlink:href="#grid4"/>
<path class="su sg" d="M480 0H645"/><path class="su sr" d="M720 15H945"/>
<g class="n"><circle class="o" cx="120" cy="61" r="5.2"/><circle class="r" cx="180" cy="15" r="5.2"/><circle class="r" cx="200" cy="15" r="5.2"/><circle class="r" cx="220" cy="15" r="5.2"/><circle class="r" cx="300" cy="15" r="5.2"/><circle class="r" cx="320" cy="15" r="5.2"/><circle class="r" cx="340" cy="15" r="5.2"/><circle class="r" cx="375" cy="15" r="5.2"/><circle class="r" cx="382.5" cy="15" r="5.2"/><circle class="r" cx="390" cy="15" r="5.2"/><circle class="r" cx="397.5" cy="15" r="5.2"/><circle class="r" cx="420" cy="15" r="5.2"/><circle class="r" cx="450" cy="15" r="5.2"/><use xlink:href="#st" class="g" x="480" y="0"/><use xlink:href="#st" class="r" x="660" y="15"/><use xlink:href="#st" class="y" x="690" y="30.3"/><circle class="r" cx="720" cy="15" r="5.2"/></g>
<rect class="ovg" x="480" width="210" height="61"/>
<rect class="ovb" x="180" width="480" height="61"/>
<g class="sc"><text x="238.5" y="76.5">144</text><text x="478.5" y="76.5">324</text><text x="718.5" y="76.5">141</text><text x="958.5" y="76.5">81</text></g>
<g class="cu"><text x="238.5" y="89.5">100008</text><text x="478.5" y="89.5">103896</text><text x="718.5" y="89.5">105372</text><text x="958.5" y="89.5">105858</text></g>
<g class="pc"><text x="238.5" y="102">21.85%</text><text x="478.5" y="102">9.35%</text><text x="718.5" y="102">25.00%</text><text x="958.5" y="102">25.00%</text></g>
</g>

<g id="row27" transform="translate(31.5,4222.3)">
<g class="mn"><text x="1" y="-7">105</text><text x="241" y="-7">106</text><text x="481" y="-7">107</text><text x="721" y="-7">108</text></g>
<use xlink:href="#grid4"/>
<path class="su sy" d="M0 30.3H345"/><path class="su sr" d="M360 15H465M720 15H945"/><path class="su sg" d="M480 0H645"/>
<g class="n"><circle class="y" cx="0" cy="30.3" r="5.2"/><circle class="r" cx="360" cy="15" r="5.2"/><circle class="g" cx="480" cy="0" r="5.2"/><circle class="r" cx="660" cy="15" r="5.2"/><circle class="y" cx="690" cy="30.3" r="5.2"/><circle class="r" cx="720" cy="15" r="5.2"/></g>
<rect class="ovb" x="360" width="480" height="61"/>
<g class="sc"><text x="238.5" y="76.5">84</text><text x="478.5" y="76.5">78</text><text x="718.5" y="76.5">141</text><text x="958.5" y="76.5">81</text></g>
<g class="cu"><text x="238.5" y="89.5">106362</text><text x="478.5" y="89.5">107172</text><text x="718.5" y="89.5">108864</text><text x="958.5" y="89.5">109710</text></g>
<g class="pc"><text x="238.5" y="102">25.00%</text><text x="478.5" y="102">18.73%</text><text x="718.5" y="102">6.23%</text><text x="958.5" y="102">0.00%</text></g>
</g>

<g id="row28" transform="translate(31.5,4376.3)">
<g class="mn"><text x="1" y="-7">109</text><text x="241" y="-7">110</text></g>
<use xlink:href="#grid2"/>
<path class="su sy" d="M0 30.3H375"/>
<g class="n"><circle class="y" cx="0" cy="30.3" r="5.2"/><circle class="g" cx="390" cy="0" r="5.2"/><circle class="g" cx="420" cy="0" r="5.2"/><circle class="g" cx="440" cy="0" r="5.2"/></g>
<g class="sc"><text x="238.5" y="76.5">84</text><text x="478.5" y="76.5">135</text></g>
<g class="cu"><text x="238.5" y="89.5">110214</text><text x="478.5" y="89.5">111024</text></g>
<g class="pc"><text x="238.5" y="102">0.00%</text><text x="478.5" y="102">0.00%</text></g>
</g>
</g>
</svg>
